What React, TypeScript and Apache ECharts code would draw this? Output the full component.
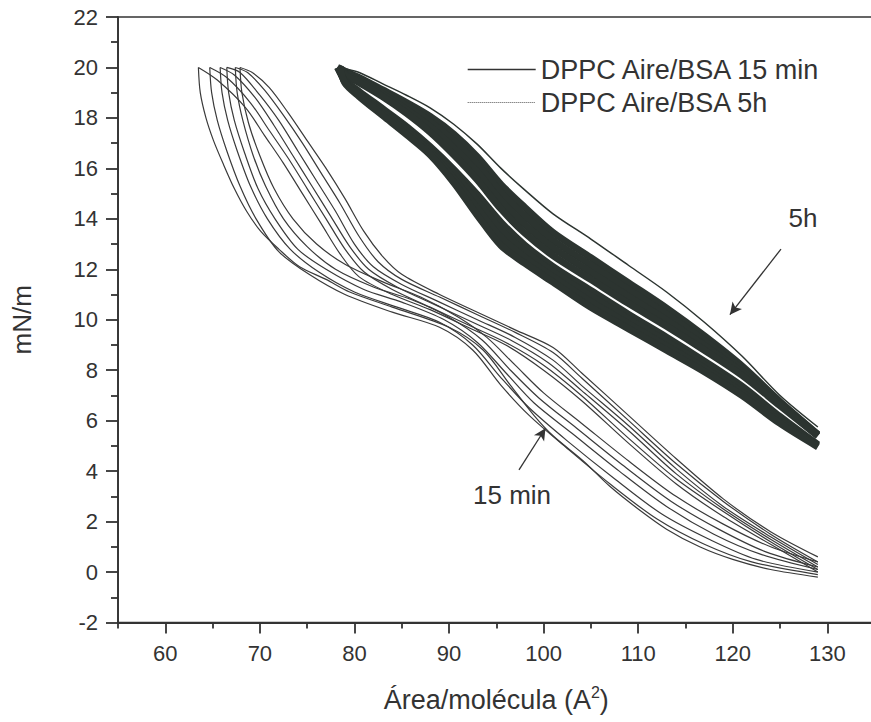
import React, { useEffect, useRef } from 'react';
import * as echarts from 'echarts';

const FONT = '"Liberation Sans", Arial, Helvetica, sans-serif';
const INK = '#333333';

const seriesNames = ['DPPC Aire/BSA 15 min', 'DPPC Aire/BSA 5h'];

const xTickValues = [60, 70, 80, 90, 100, 110, 120, 130];
const xMinorTickValues = [55, 65, 75, 85, 95, 105, 115, 125, 135];
const yMin = -2;
const yMax = 22;
const yStep = 2;

// ---- 15 min film: compression (c) and expansion (e) branches of 6 cycles ----
const m15c1 = [[129,0.6],[124,1.6],[119,2.9],[114,4.5],[109,6.2],[104,7.9],[101,8.9],[97,9.6],[93,10.3],[89,11.0],[85,11.8],[83,12.5],[81,13.5],[79,14.8],[77,16.0],[75,17.1],[73,18.2],[71,19.2],[69.2,19.8],[67.9,20]];
const m15e1 = [[67.9,20],[68.1,19.0],[68.8,17.8],[70,16.5],[71.5,15.2],[73.5,14.0],[76,13.0],[79,12.2],[83,11.5],[87,10.9],[91,10.1],[94,9.3],[97,8.2],[100,7.1],[104,5.9],[109,4.4],[114,3.0],[119,1.9],[124,1.0],[129,0.4]];
const m15c2 = [[129,0.4],[124,1.5],[119,2.8],[114,4.3],[109,6.0],[104,7.7],[101,8.7],[97,9.5],[93,10.2],[89,10.9],[85,11.6],[82.5,12.3],[80.5,13.3],[78.5,14.6],[76.5,15.8],[74.5,17.0],[72.5,18.1],[70.5,19.1],[68.7,19.8],[67.4,20]];
const m15e2 = [[67.4,20],[67.6,19.0],[68.2,17.9],[69.3,16.5],[70.6,15.3],[72.5,14.0],[75,12.9],[78,12.0],[82,11.3],[86,10.8],[90,10.1],[93.5,9.2],[96.5,8.0],[99.5,6.9],[103.5,5.7],[108.5,4.2],[113.5,2.8],[118.5,1.7],[123.5,0.8],[129,0.2]];
const m15c3 = [[129,0.3],[124,1.4],[119,2.6],[114,4.1],[109,5.8],[104,7.4],[101,8.4],[97,9.3],[93,10.0],[89,10.7],[85,11.4],[82,12.1],[80,13.0],[78,14.3],[76,15.5],[74,16.7],[72,17.9],[70,18.9],[67.9,19.8],[66.5,20]];
const m15e3 = [[66.5,20],[66.7,19.0],[67.3,17.9],[68.4,16.6],[69.8,15.2],[71.6,14.0],[74,12.8],[77,12.0],[81,11.2],[85,10.7],[89.5,10.0],[93,9.1],[96,7.9],[99,6.7],[103,5.5],[108,4.0],[113,2.6],[118,1.5],[123,0.7],[129,0.1]];
const m15c4 = [[129,0.2],[124,1.3],[119,2.5],[114,3.9],[109,5.6],[104,7.2],[100.5,8.3],[96.5,9.2],[92.5,9.9],[88.5,10.6],[84.5,11.3],[81.5,12.0],[79.5,12.9],[77.5,14.1],[75.5,15.3],[73.5,16.5],[71.5,17.7],[69.5,18.8],[67.3,19.7],[65.8,20]];
const m15e4 = [[65.8,20],[66.0,19.0],[66.6,17.9],[67.6,16.7],[69,15.3],[70.8,14.0],[73.2,12.8],[76.2,11.9],[80,11.1],[84.5,10.5],[89,9.9],[92.5,9.0],[95.5,7.7],[98.5,6.5],[102.5,5.2],[107.5,3.7],[112.5,2.3],[117.5,1.3],[122.5,0.5],[129,0]];
const m15c5 = [[129,0.1],[124,1.2],[119,2.4],[114,3.7],[109,5.3],[104,7.0],[100,8.2],[96,9.1],[92,9.8],[88,10.5],[84,11.2],[81,11.9],[79,12.8],[77,14.0],[75,15.2],[73,16.4],[71,17.5],[69,18.6],[66.5,19.6],[64.7,20]];
const m15e5 = [[64.7,20],[64.9,19.0],[65.5,17.9],[66.5,16.7],[67.9,15.3],[69.6,14.0],[72,12.7],[75.2,11.8],[79,11.0],[84,10.3],[89,9.7],[92.5,8.8],[95.5,7.4],[98.5,6.2],[102.5,4.9],[107,3.5],[112,2.1],[117,1.1],[122,0.4],[129,-0.1]];
const m15c6 = [[129,0],[124,1.1],[119,2.2],[114,3.5],[109,5.1],[104,6.8],[100,8.0],[96,9.0],[92,9.7],[88,10.4],[84,11.0],[80.5,11.7],[78.5,12.6],[76.5,13.8],[74.5,15.0],[72.5,16.2],[70.5,17.3],[68.5,18.4],[65.5,19.5],[63.5,20]];
const m15e6 = [[63.5,20],[63.7,19.0],[64.3,18.0],[65.1,17.1],[66.1,16.2],[67.3,15.2],[68.6,14.3],[70.1,13.5],[72,12.8],[74.2,12.1],[77,11.6],[79.5,11.1],[84,10.5],[90,9.7],[93.6,8.8],[96.5,7.4],[99,6.2],[101,5.4],[104.2,4.4],[107,3.4],[110,2.5],[113,1.7],[116.5,1.0],[120,0.5],[124,0.1],[129,-0.2]];
const m15Branches = [m15c1, m15e1, m15c2, m15e2, m15c3, m15e3, m15c4, m15e4, m15c5, m15e5, m15c6, m15e6];

// ---- 5 h film: dense band of cycles ----
const h5X = [129, 125, 121, 117, 113, 109, 105, 101, 98, 95.5, 93, 90.5, 88, 85.5, 83, 80.5, 79];
const h5First = [5.75, 7.0, 8.55, 9.9, 11.1, 12.15, 13.2, 14.2, 15.15, 16.0, 16.95, 17.75, 18.4, 18.9, 19.35, 19.8, 19.95];
const h5Comp1 = [5.46, 6.76, 8.16, 9.36, 10.46, 11.46, 12.46, 13.46, 14.46, 15.36, 16.46, 17.36, 18.06, 18.61, 19.11, 19.6, 19.85];
const h5Comp2 = [5.44, 6.70, 8.04, 9.17, 10.22, 11.19, 12.17, 13.15, 14.12, 15.04, 16.15, 17.09, 17.85, 18.47, 19.02, 19.53, 19.8];
const h5Comp3 = [5.41, 6.65, 7.91, 8.98, 9.98, 10.91, 11.88, 12.85, 13.78, 14.71, 15.85, 16.81, 17.65, 18.33, 18.93, 19.47, 19.75];
const h5Comp4 = [5.39, 6.59, 7.79, 8.79, 9.74, 10.64, 11.59, 12.54, 13.44, 14.39, 15.54, 16.54, 17.44, 18.19, 18.84, 19.4, 19.7];
const h5Exp1 = [5.05, 6.16, 7.36, 8.36, 9.31, 10.21, 11.16, 12.11, 12.96, 13.86, 14.96, 15.96, 16.86, 17.66, 18.36, 19.05, 19.5];
const h5Exp2 = [5.02, 6.07, 7.24, 8.22, 9.14, 10.02, 10.94, 11.9, 12.72, 13.55, 14.69, 15.79, 16.75, 17.55, 18.27, 18.98, 19.46];
const h5Exp3 = [4.99, 5.98, 7.11, 8.08, 8.96, 9.83, 10.71, 11.7, 12.48, 13.25, 14.41, 15.61, 16.65, 17.45, 18.18, 18.92, 19.42];
const h5Exp4 = [4.96, 5.89, 6.99, 7.94, 8.79, 9.64, 10.49, 11.49, 12.24, 12.94, 14.14, 15.44, 16.54, 17.34, 18.09, 18.85, 19.38];
const h5TipY = 20;
const h5BandLines = [
  { ys: h5Comp1, tipX: 78.2 },
  { ys: h5Comp2, tipX: 78.3 },
  { ys: h5Comp3, tipX: 78.4 },
  { ys: h5Comp4, tipX: 78.5 },
  { ys: h5Exp1, tipX: 78.2 },
  { ys: h5Exp2, tipX: 78.3 },
  { ys: h5Exp3, tipX: 78.4 },
  { ys: h5Exp4, tipX: 78.5 },
];
const h5FirstTipX = 78.2;

// annotation arrows (data coordinates)
const arrow5h = [[125.1, 12.8], [119.7, 10.2]];
const arrow15 = [[97.4, 4.05], [100.2, 5.7]];

function withTip(ys: number[], tipX: number) {
  const pts = h5X.map((x, i) => [x, ys[i]]);
  pts.push([tipX, h5TipY]);
  return pts;
}

export default function App() {
  const ref = useRef<HTMLDivElement>(null);
  useEffect(() => {
    if (!ref.current) return;
    const chart = echarts.init(ref.current, undefined, { renderer: 'svg' });

    const series: any[] = [];
    m15Branches.forEach((b, i) => {
      series.push({
        type: 'line',
        name: seriesNames[0],
        data: b,
        symbol: 'none',
        showSymbol: false,
        smooth: 0.3,
        silent: true,
        z: 3,
        itemStyle: { color: '#3a3a3a' },
        lineStyle: { color: '#3a3a3a', width: 1.2 },
        ...(i === 0
          ? {
              markLine: {
                silent: true,
                symbol: ['none', 'arrow'],
                symbolSize: [9, 12],
                lineStyle: { color: INK, width: 1.3, type: 'solid' },
                label: { show: false },
                data: [
                  [{ coord: arrow5h[0] }, { coord: arrow5h[1] }],
                  [{ coord: arrow15[0] }, { coord: arrow15[1] }],
                ],
              },
            }
          : {}),
      });
    });
    h5BandLines.forEach((l) => {
      series.push({
        type: 'line',
        name: seriesNames[1],
        data: withTip(l.ys, l.tipX),
        symbol: 'none',
        showSymbol: false,
        smooth: 0.3,
        silent: true,
        z: 2,
        itemStyle: { color: '#2c3430' },
        lineStyle: { color: '#2c3430', width: 7, cap: 'butt' },
      });
    });
    series.push({
      type: 'line',
      name: seriesNames[1],
      data: withTip(h5First, h5FirstTipX),
      symbol: 'none',
      showSymbol: false,
      smooth: 0.3,
      silent: true,
      z: 2,
      itemStyle: { color: '#2c3430' },
      lineStyle: { color: '#2c3430', width: 1.5 },
    });

    chart.setOption({
      animation: false,
      backgroundColor: '#ffffff',
      textStyle: { fontFamily: FONT, color: INK },
      grid: {
        left: 118,
        top: 17,
        width: 756.6,
        height: 605.5,
        show: true,
        borderColor: INK,
        borderWidth: 1.5,
        backgroundColor: 'transparent',
      },
      legend: {
        orient: 'vertical',
        left: 467,
        top: 56,
        padding: 0,
        itemWidth: 68,
        itemHeight: 14,
        itemGap: 6,
        selectedMode: false,
        textStyle: { fontSize: 27, color: INK, fontFamily: FONT },
        data: [
          {
            name: seriesNames[0],
            itemStyle: { color: 'rgba(0,0,0,0)', opacity: 0, borderWidth: 0 },
            lineStyle: { color: '#333', width: 1.4, type: 'solid' },
          },
          {
            name: seriesNames[1],
            itemStyle: { color: 'rgba(0,0,0,0)', opacity: 0, borderWidth: 0 },
            lineStyle: { color: '#555', width: 1, type: 'dotted' },
          },
        ],
      },
      xAxis: [
        {
          type: 'value',
          min: 55,
          max: 135,
          interval: 5,
          position: 'bottom',
          name: 'Área/molécula (A{sup|2})',
          nameLocation: 'middle',
          nameGap: 62,
          nameTextStyle: {
            fontSize: 27,
            color: INK,
            fontFamily: FONT,
            rich: { sup: { fontSize: 16, verticalAlign: 'top', color: INK, fontFamily: FONT, padding: [0, 0, 14, 0] } },
          },
          axisLine: { show: true, onZero: false, lineStyle: { color: INK, width: 1.8 } },
          axisTick: { show: true, customValues: xTickValues, length: 11, lineStyle: { color: INK, width: 1.8 } },
          axisLabel: { show: true, customValues: xTickValues, fontSize: 22, color: INK, margin: 20, fontFamily: FONT },
          splitLine: { show: false },
        },
        {
          type: 'value',
          min: 55,
          max: 135,
          interval: 5,
          position: 'bottom',
          axisLine: { show: false, onZero: false },
          axisTick: { show: true, customValues: xMinorTickValues, length: 6, lineStyle: { color: INK, width: 1.8 } },
          axisLabel: { show: false },
          splitLine: { show: false },
        },
      ],
      yAxis: {
        type: 'value',
        min: yMin,
        max: yMax,
        interval: yStep,
        name: 'mN/m',
        nameLocation: 'middle',
        nameRotate: 90,
        nameGap: 83,
        nameTextStyle: { fontSize: 26, color: INK, fontFamily: FONT },
        axisLine: { show: true, onZero: false, lineStyle: { color: INK, width: 1.8 } },
        axisTick: { show: true, length: 12, lineStyle: { color: INK, width: 1.8 } },
        minorTick: { show: true, splitNumber: 2, length: 7, lineStyle: { color: INK, width: 1.8 } },
        axisLabel: { fontSize: 22, color: INK, margin: 20, fontFamily: FONT },
        splitLine: { show: false },
        minorSplitLine: { show: false },
      },
      graphic: [
        {
          type: 'text',
          x: 803,
          y: 218,
          style: { text: '5h', fontSize: 26, fontFamily: FONT, fill: INK, align: 'center', verticalAlign: 'middle' },
        },
        {
          type: 'text',
          x: 512,
          y: 495,
          style: { text: '15 min', fontSize: 26, fontFamily: FONT, fill: INK, align: 'center', verticalAlign: 'middle' },
        },
      ],
      series,
    });
    return () => chart.dispose();
  }, []);

  return (
    <div style={{ position: 'fixed', left: 0, top: 0, width: 871, height: 722, overflow: 'hidden', background: '#fff' }}>
      <div ref={ref} style={{ width: 880, height: 722 }} />
    </div>
  );
}
